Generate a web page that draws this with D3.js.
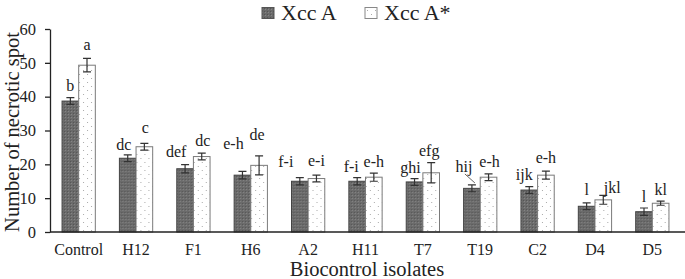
<!DOCTYPE html>
<html lang="en">
<head>
    <meta charset="UTF-8">
    <title>Necrotic spots by biocontrol isolate</title>
    <script src="https://d3js.org/d3.v7.min.js"></script>
    <style>
        body { margin: 0; background: #fff; }
        svg { display: block; font-family: "Liberation Serif", "Times New Roman", serif; }
    </style>
</head>
<body>
    <svg width="685" height="279"></svg>
    <script>
        // Data
        const isolates = ["Control", "H12", "F1", "H6", "A2", "H11", "T7", "T19", "C2", "D4", "D5"];
        const seriesNames = ["Xcc A", "Xcc A*"];
        const xccA = [38.7, 21.8, 18.7, 16.8, 15.0, 15.0, 14.8, 12.9, 12.4, 7.6, 6.0];
        const xccAErr = [1.0, 1.0, 1.2, 1.1, 1.1, 1.1, 1.0, 1.0, 1.0, 1.0, 1.1];
        const xccAStar = [49.3, 25.2, 22.3, 19.7, 15.8, 16.2, 17.5, 16.2, 16.8, 9.5, 8.5];
        const xccAStarErr = [2.0, 1.0, 1.0, 2.8, 1.0, 1.2, 3.0, 1.0, 1.2, 1.3, 0.6];
        const lettersA = ["b", "dc", "def", "e-h", "f-i", "f-i", "ghi", "hij", "ijk", "l", "l"];
        const lettersAStar = ["a", "c", "dc", "de", "e-i", "e-h", "efg", "e-h", "e-h", "jkl", "kl"];
        const yTicks = [0, 10, 20, 30, 40, 50, 60];

        // label placement tweaks (px), as in the original figure
        const nudgeA = [[0, 7], [-4, 5], [-9, 8], [-9, 22], [-14, 11], [-6, 6], [-4, 6], [-8, 13], [-5, 7], [0, 8], [0, 6]];
        const nudgeAStar = [[0, 8], [1, 10], [1, 7], [-2, 16], [0, 9], [0, 6], [-2, 7], [1, 7], [0, 8], [9, 2], [0, 6]];

        const svg = d3.select("svg");
        const margin = { left: 50, right: 0, top: 29, bottom: 47 };
        const W = 685, H = 279;

        // patterns
        const defs = svg.append("defs");
        const pd = defs.append("pattern").attr("id", "dark")
            .attr("width", 3).attr("height", 3).attr("patternUnits", "userSpaceOnUse");
        pd.append("rect").attr("width", 3).attr("height", 3).attr("fill", "#6b6b6b");
        pd.append("rect").attr("width", 1).attr("height", 1).attr("fill", "#858585");
        pd.append("rect").attr("x", 2).attr("y", 2).attr("width", 1).attr("height", 1).attr("fill", "#555");
        const pl = defs.append("pattern").attr("id", "dots")
            .attr("width", 8).attr("height", 8).attr("patternUnits", "userSpaceOnUse");
        pl.append("rect").attr("width", 8).attr("height", 8).attr("fill", "#fff");
        pl.append("rect").attr("x", 1).attr("y", 2).attr("width", 1).attr("height", 1).attr("fill", "#aaa");
        pl.append("rect").attr("x", 5).attr("y", 6).attr("width", 1).attr("height", 1).attr("fill", "#aaa");

        const x = d3.scaleBand().domain(isolates).range([margin.left, W - 4]).paddingInner(0.42).paddingOuter(0.21);
        const xs = d3.scaleBand().domain(seriesNames).range([0, x.bandwidth()]);
        const y = d3.scaleLinear().domain([0, 60]).range([H - margin.bottom, margin.top]);

        const rows = isolates.map((name, i) => ({
            name,
            vals: [
                { s: seriesNames[0], v: xccA[i], e: xccAErr[i], l: lettersA[i], n: nudgeA[i] },
                { s: seriesNames[1], v: xccAStar[i], e: xccAStarErr[i], l: lettersAStar[i], n: nudgeAStar[i] }
            ]
        }));

        const g = svg.selectAll("g.grp").data(rows).join("g")
            .attr("class", "grp")
            .attr("transform", d => `translate(${x(d.name)},0)`);

        const bar = g.selectAll("g.bar").data(d => d.vals).join("g").attr("class", "bar");

        bar.append("rect")
            .attr("x", d => xs(d.s))
            .attr("y", d => y(d.v))
            .attr("width", xs.bandwidth())
            .attr("height", d => y(0) - y(d.v))
            .attr("fill", d => d.s === seriesNames[0] ? "url(#dark)" : "url(#dots)")
            .attr("stroke", d => d.s === seriesNames[0] ? "#444" : "#7a7a7a")
            .attr("stroke-width", 1);

        // error bars
        const cx = d => xs(d.s) + xs.bandwidth() / 2;
        bar.append("path")
            .attr("d", d => `M${cx(d) - 4},${y(d.v + d.e)}H${cx(d) + 4}M${cx(d)},${y(d.v + d.e)}V${y(d.v - d.e)}M${cx(d) - 4},${y(d.v - d.e)}H${cx(d) + 4}`)
            .attr("stroke", "#333").attr("stroke-width", 1.2).attr("fill", "none");

        // significance letters
        bar.append("text")
            .attr("x", d => cx(d) + d.n[0])
            .attr("y", d => y(d.v + d.e) - d.n[1])
            .attr("text-anchor", "middle")
            .attr("font-size", 16)
            .attr("fill", "#222")
            .text(d => d.l);

        // leader line for T19 "hij"
        const t19 = isolates.indexOf("T19");
        const lx = x("T19") + xs.bandwidth() / 2;
        svg.append("line")
            .attr("x1", lx - 7).attr("y1", y(xccA[t19] + xccAErr[t19]) - 11)
            .attr("x2", lx + 3).attr("y2", y(xccA[t19] + xccAErr[t19]) - 2)
            .attr("stroke", "#666").attr("stroke-width", 1);

        // axes
        const yAxis = svg.append("g")
            .attr("transform", `translate(${margin.left},0)`)
            .call(d3.axisLeft(y).tickValues(yTicks).tickSize(5).tickSizeOuter(0));
        yAxis.select(".domain").attr("stroke", "#222").attr("stroke-width", 1.3);
        yAxis.selectAll(".tick line").attr("stroke", "#222").attr("stroke-width", 1.3);
        yAxis.selectAll(".tick text").attr("font-family", "Liberation Serif").attr("font-size", 16.5).attr("fill", "#222").attr("x", -14);

        const xAxis = svg.append("g")
            .attr("transform", `translate(0,${y(0)})`)
            .call(d3.axisBottom(x).tickSize(0).tickSizeOuter(0));
        xAxis.select(".domain").attr("d", `M${margin.left},0H${W}`).attr("stroke", "#222").attr("stroke-width", 1.3);
        xAxis.selectAll(".tick text").attr("font-family", "Liberation Serif").attr("font-size", 16).attr("fill", "#222").attr("y", 12);

        // axis titles
        svg.append("text")
            .attr("transform", `translate(19,132) rotate(-90)`)
            .attr("text-anchor", "middle")
            .attr("font-size", 20.5).attr("fill", "#222")
            .text("Number of necrotic spot");
        svg.append("text")
            .attr("x", 367).attr("y", 276)
            .attr("text-anchor", "middle")
            .attr("font-size", 20.5).attr("fill", "#222")
            .text("Biocontrol isolates");

        // legend
        const leg = svg.append("g").attr("transform", "translate(262,0)");
        const legX = [0, 103];
        seriesNames.forEach((s, i) => {
            leg.append("rect").attr("x", legX[i]).attr("y", 7.5).attr("width", 12).attr("height", 11)
                .attr("fill", i === 0 ? "url(#dark)" : "url(#dots)")
                .attr("stroke", i === 0 ? "#555" : "#888");
            leg.append("text").attr("x", legX[i] + 19).attr("y", 20)
                .attr("font-size", 22).attr("fill", "#222").text(s);
        });
    </script>
</body>
</html>
